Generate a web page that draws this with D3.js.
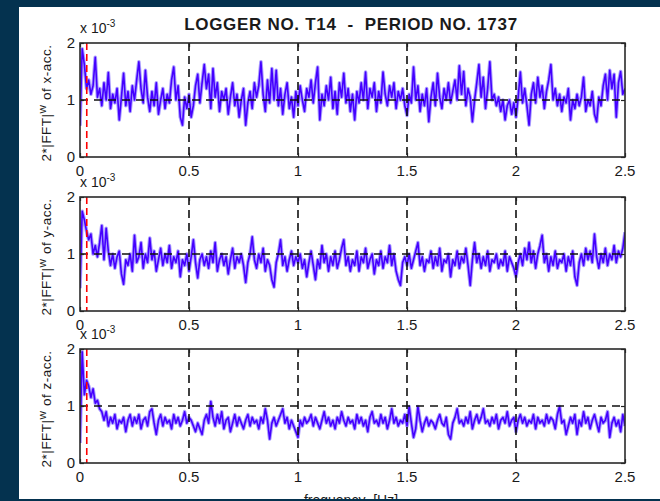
<!DOCTYPE html>
<html>
<head>
<meta charset="utf-8">
<script src="https://cdn.jsdelivr.net/npm/d3@7"></script>
<style>
  body { margin: 0; background: #04324f; }
  text { font-family: "Liberation Sans", Arial, sans-serif; fill: #1a1a1a; white-space: pre; }
</style>
</head>
<body>
<script>
// spectrum values (units of 1e-3), one value every 0.01 Hz from 0 to 2.5 Hz
var freqStep = 0.01;

var xAcc = [
  0.55, 1.9, 1.62, 1.2, 1.35, 1.1, 1.25, 1.75, 1.05, 1.2, 0.9, 1.3, 1.0, 1.48, 0.85, 1.1, 0.95, 1.2, 0.65, 1.05, 1.47, 0.9, 1.15, 0.8, 1.25,
  1.0, 1.35, 1.67, 1.2, 0.95, 1.52, 1.05, 0.8, 1.15, 0.9, 1.3, 0.75, 1.0, 1.2, 0.85, 1.1, 0.95, 1.35, 1.58, 1.0, 1.25, 0.7, 0.56, 1.05, 0.85,
  1.1, 0.7, 0.9, 1.25, 1.45, 0.95, 1.3, 1.62, 1.2, 1.45, 0.85, 1.55, 1.05, 1.3, 0.8, 1.15, 1.0, 1.2, 0.75, 1.05, 1.3, 0.9, 1.1, 0.7, 1.0,
  1.2, 0.56, 0.95, 1.15, 0.85, 1.3, 1.05, 1.25, 1.67, 1.1, 0.8, 1.35, 0.95, 1.55, 1.0, 1.52, 0.9, 1.2, 0.75, 1.1, 1.3, 0.85, 1.05, 0.7, 1.15,
  0.9, 1.25, 1.0, 0.8, 1.2, 1.05, 1.35, 0.95, 1.3, 1.58, 0.65, 1.1, 0.9, 1.25, 1.0, 1.4, 0.85, 1.15, 0.75, 1.3, 1.05, 1.47, 0.95, 1.2, 0.8,
  1.1, 0.65, 1.15, 0.95, 1.3, 1.0, 1.49, 0.85, 1.2, 1.05, 1.3, 0.8, 1.15, 0.95, 1.49, 1.1, 0.9, 1.25, 1.05, 1.3, 0.85, 1.15, 1.0, 1.2, 0.9,
  0.73, 1.1, 0.95, 1.58, 1.0, 1.25, 0.8, 1.1, 0.9, 1.2, 0.62, 1.05, 1.3, 0.9, 1.47, 1.05, 0.85, 1.2, 1.0, 1.3, 0.95, 1.15, 1.35, 1.0, 1.6,
  1.1, 1.5, 0.9, 1.2, 1.05, 0.62, 1.0, 1.3, 1.62, 1.05, 1.4, 0.85, 1.2, 1.67, 1.0, 1.1, 0.9, 1.05, 0.8, 1.0, 0.65, 0.9, 1.0, 0.75, 0.95,
  0.7, 1.05, 1.49, 0.95, 1.2, 0.9, 0.56, 1.1, 1.3, 0.95, 1.4, 1.05, 1.25, 0.85, 1.15, 1.35, 1.62, 1.0, 1.2, 0.9, 1.1, 0.8, 1.05, 0.95, 1.2,
  0.65, 1.0, 0.85, 1.1, 0.9, 1.05, 1.4, 0.8, 1.0, 0.9, 1.15, 0.75, 0.62, 1.05, 0.9, 1.25, 1.45, 1.0, 1.52, 1.2, 1.45, 0.7, 1.3, 1.5, 1.1,
  1.2
];

var yAcc = [
  0.4, 1.75, 1.6, 1.4, 1.25, 1.35, 1.0, 1.15, 0.95, 1.2, 1.5, 0.9, 1.45, 1.05, 0.8, 1.0, 0.75, 0.95, 1.05, 0.65, 0.47, 0.9, 0.8, 1.0, 0.7,
  1.33, 0.85, 0.95, 1.2, 0.75, 1.0, 0.85, 1.28, 0.9, 1.05, 0.7, 0.9, 1.1, 0.8, 1.0, 0.85, 1.15, 0.75, 0.95, 0.85, 1.05, 0.6, 0.9, 0.8, 1.0,
  0.7, 0.95, 1.25, 0.85, 0.58, 0.9, 1.0, 0.8, 0.95, 0.75, 1.05, 0.85, 1.2, 0.7, 0.9, 1.0, 0.8, 0.95, 0.65, 0.9, 1.1, 0.75, 0.95, 0.85, 1.0,
  0.8, 0.5, 0.85, 1.0, 1.3, 0.9, 0.75, 1.0, 0.85, 1.1, 0.7, 0.9, 0.8, 0.55, 0.42, 0.85, 1.0, 1.25, 0.8, 0.95, 0.7, 0.9, 1.05, 0.8, 0.95,
  0.85, 1.0, 0.75, 0.9, 0.6, 0.85, 1.05, 0.8, 0.55, 0.9, 0.75, 1.15, 0.85, 1.0, 0.7, 0.95, 0.8, 1.05, 0.75, 0.9, 1.1, 1.25, 0.8, 0.95, 0.7,
  0.9, 0.8, 1.05, 0.7, 0.95, 0.85, 1.1, 0.75, 0.9, 1.0, 0.65, 0.9, 0.8, 1.05, 0.75, 0.95, 0.85, 1.15, 0.8, 1.0, 0.7, 0.55, 0.45, 0.85, 0.95,
  0.8, 1.0, 0.75, 0.9, 1.05, 1.2, 0.8, 0.95, 0.7, 0.9, 0.85, 1.05, 0.75, 0.95, 0.8, 1.1, 0.7, 0.9, 0.85, 1.0, 0.6, 0.9, 0.8, 1.05, 0.75,
  0.95, 0.85, 1.1, 0.8, 0.45, 0.9, 1.2, 0.85, 1.0, 0.75, 0.95, 0.8, 1.05, 0.7, 0.9, 0.85, 1.0, 0.75, 0.9, 0.8, 1.05, 0.7, 0.95, 0.85, 0.75,
  0.6, 0.85, 1.0, 0.8, 1.1, 0.9, 1.2, 0.85, 1.05, 0.75, 1.0, 1.15, 1.33, 0.85, 1.0, 0.7, 0.95, 0.8, 1.05, 0.75, 0.9, 0.85, 1.0, 0.7, 0.95,
  0.8, 1.05, 0.6, 0.45, 0.85, 1.0, 0.8, 1.1, 0.9, 1.05, 0.85, 1.35, 0.95, 0.75, 1.0, 0.85, 1.1, 0.8, 1.0, 0.9, 1.15, 0.85, 1.05, 0.95, 1.1,
  1.38
];

var zAcc = [
  0.35, 1.95, 1.2, 1.45, 1.35, 1.15, 1.3, 1.05, 1.1, 0.95, 0.9, 0.75, 0.9, 0.65, 0.8, 0.7, 0.85, 0.6, 0.75, 0.7, 0.8, 0.55, 0.75, 0.85, 0.65,
  0.8, 0.7, 0.85, 0.6, 0.75, 0.8, 0.65, 0.9, 0.95, 0.7, 0.5, 0.75, 0.85, 0.65, 0.8, 0.7, 0.75, 0.6, 0.85, 0.7, 0.8, 0.65, 0.75, 0.9, 0.7,
  0.8, 0.75, 0.65, 0.55, 0.7, 0.6, 0.5, 0.75, 0.85, 0.7, 1.08, 0.8, 0.65, 0.85, 0.7, 0.9, 0.6, 0.75, 0.8, 0.55, 0.7, 0.85, 0.65, 0.8, 0.7,
  0.6, 0.75, 0.85, 0.65, 0.8, 0.7, 0.75, 0.6, 0.8, 0.7, 0.95, 0.75, 0.42, 0.7, 0.8, 0.65, 0.75, 0.85, 0.95, 0.7, 0.8, 0.6, 0.75, 0.65, 0.55,
  0.45, 0.75, 0.65, 0.8, 0.7, 0.75, 0.85, 0.65, 0.8, 0.7, 0.6, 0.75, 0.9, 0.7, 0.8, 0.65, 0.75, 0.6, 0.8, 0.7, 0.9, 0.75, 0.65, 0.8, 0.7,
  0.75, 0.6, 0.85, 0.7, 0.8, 0.65, 0.75, 0.55, 0.8, 0.9, 0.7, 0.75, 0.65, 0.85, 0.7, 0.8, 0.6, 0.75, 0.95, 0.7, 0.8, 0.65, 0.75, 0.7, 0.85,
  0.65, 0.99, 0.7, 0.45, 0.6, 0.99, 0.75, 0.55, 0.7, 0.8, 0.65, 0.75, 0.7, 0.6, 0.75, 0.85, 0.7, 0.65, 0.8, 0.5, 0.42, 0.7, 0.8, 0.95, 0.7,
  0.75, 0.65, 0.8, 0.7, 0.9, 0.6, 0.75, 0.85, 0.7, 0.8, 0.95, 0.7, 0.75, 0.65, 0.8, 0.7, 0.85, 0.6, 0.75, 0.8, 0.7, 0.9, 0.65, 0.75, 0.8,
  0.55, 0.75, 0.85, 0.7, 0.8, 0.65, 0.75, 0.7, 0.85, 0.6, 0.8, 0.7, 0.75, 0.65, 0.85, 0.7, 0.8, 0.75, 0.6, 0.85, 0.99, 0.7, 0.75, 0.5, 0.65,
  0.8, 0.7, 0.85, 0.5, 0.75, 0.65, 0.9, 0.7, 0.8, 0.6, 0.75, 0.85, 0.7, 0.55, 0.8, 0.7, 0.75, 0.9, 0.45, 0.7, 0.8, 0.65, 0.75, 0.55, 0.85,
  0.65
];

var series = [xAcc, yAcc, zAcc];
var axisNames = ["x-acc.", "y-acc.", "z-acc."];
var xTicks = [0, 0.5, 1, 1.5, 2, 2.5];
var xTickLabels = ["0", "0.5", "1", "1.5", "2", "2.5"];
var yTicks = [0, 1, 2];
var xGrid = [0.5, 1, 1.5, 2];
var yGrid = [1];
var cutoffFreq = 0.031;
var titleText = "LOGGER NO. T14  -  PERIOD NO. 1737";
var xLabelText = "frequency  [Hz]";

// layout properties
var p = {
    width: 660,
    height: 501,
    left: 80,
    right: 625,
    panelTops: [43, 197, 349],
    panelHeight: 114,
    lineColor: "#4400ff",
    haloColor: "#ab9dff"
};

var svg = d3.select("body").append("svg")
    .attr("width", p.width).attr("height", p.height);

// white page on navy background
svg.append("rect").attr("x", 19).attr("y", 7)
    .attr("width", p.width - 19).attr("height", 492).attr("fill", "#ffffff");

// title
svg.append("text").attr("x", 351).attr("y", 30)
    .attr("text-anchor", "middle")
    .style("font-size", "17px").style("font-weight", "bold")
    .style("letter-spacing", "0.7px")
    .text(titleText);

var x = d3.scaleLinear().domain([0, 2.5]).range([p.left, p.right]);

series.forEach(function(values, k) {
    var top = p.panelTops[k];
    var bottom = top + p.panelHeight;
    var y = d3.scaleLinear().domain([0, 2]).range([bottom, top]);
    var g = svg.append("g");

    // clip the spectrum to the axes box
    var clipId = "clip" + k;
    svg.append("clipPath").attr("id", clipId).append("rect")
        .attr("x", p.left).attr("y", top)
        .attr("width", p.right - p.left).attr("height", p.panelHeight);

    var line = d3.line()
        .x(function(d, i) { return x(i * freqStep); })
        .y(function(d) { return y(d); });

    var plot = g.append("g").attr("clip-path", "url(#" + clipId + ")");

    // soft halo then the main trace
    plot.append("path").datum(values)
        .attr("d", line).attr("fill", "none")
        .attr("stroke", p.haloColor).attr("stroke-width", 3.6)
        .attr("stroke-linejoin", "round");
    plot.append("path").datum(values)
        .attr("d", line).attr("fill", "none")
        .attr("stroke", p.lineColor).attr("stroke-width", 1.6)
        .attr("stroke-linejoin", "round");

    // dashed grid lines
    g.selectAll(".vgrid").data(xGrid).enter().append("line")
        .attr("x1", function(d) { return x(d); }).attr("x2", function(d) { return x(d); })
        .attr("y1", top).attr("y2", bottom)
        .attr("stroke", "#111").attr("stroke-width", 1.6)
        .attr("stroke-dasharray", "8,5");
    g.selectAll(".hgrid").data(yGrid).enter().append("line")
        .attr("x1", p.left).attr("x2", p.right)
        .attr("y1", function(d) { return y(d); }).attr("y2", function(d) { return y(d); })
        .attr("stroke", "#111").attr("stroke-width", 1.4)
        .attr("stroke-dasharray", "8,6");

    // red dashed marker
    g.append("line")
        .attr("x1", x(cutoffFreq)).attr("x2", x(cutoffFreq))
        .attr("y1", top).attr("y2", bottom)
        .attr("stroke", "#ff0000").attr("stroke-width", 1.6)
        .attr("stroke-dasharray", "7,4");

    // inner ticks on all four sides
    var bottomAxis = d3.axisBottom(x).tickValues(xTicks).tickSize(-4).tickFormat("");
    var topAxis = d3.axisTop(x).tickValues(xTicks).tickSize(-4).tickFormat("");
    var leftAxis = d3.axisLeft(y).tickValues(yTicks).tickSize(-4).tickFormat("");
    var rightAxis = d3.axisRight(y).tickValues(yTicks).tickSize(-4).tickFormat("");
    [[bottomAxis, "translate(0," + bottom + ")"], [topAxis, "translate(0," + top + ")"],
     [leftAxis, "translate(" + p.left + ",0)"], [rightAxis, "translate(" + p.right + ",0)"]]
        .forEach(function(a) {
            var ax = g.append("g").attr("transform", a[1]).call(a[0]);
            ax.select(".domain").remove();
            ax.selectAll("line").attr("stroke", "#222").attr("stroke-width", 1.2);
        });

    // axes box
    g.append("rect").attr("x", p.left).attr("y", top)
        .attr("width", p.right - p.left).attr("height", p.panelHeight)
        .attr("fill", "none").attr("stroke", "#2a2a2a").attr("stroke-width", 1.6);

    // tick labels
    g.selectAll(".xl").data(xTicks).enter().append("text")
        .attr("x", function(d) { return x(d); }).attr("y", bottom + 19)
        .attr("text-anchor", "middle").style("font-size", "15px")
        .text(function(d, i) { return xTickLabels[i]; });
    g.selectAll(".yl").data(yTicks).enter().append("text")
        .attr("x", p.left - 5).attr("y", function(d) { return y(d) + 5; })
        .attr("text-anchor", "end").style("font-size", "15px")
        .text(function(d) { return d; });

    // exponent note
    var ex = g.append("text").attr("x", p.left).attr("y", top - 10)
        .style("font-size", "14px");
    ex.append("tspan").text("x 10");
    ex.append("tspan").attr("dy", -6).style("font-size", "10px").text("-3");

    // rotated y label
    var yl = g.append("text")
        .attr("transform", "translate(51," + (top + 60) + ") rotate(-90)")
        .attr("text-anchor", "middle").style("font-size", "13.5px")
        .style("letter-spacing", "0.5px");
    yl.append("tspan").text("2*|FFT|");
    yl.append("tspan").attr("dy", -5).style("font-size", "9px").text("W");
    yl.append("tspan").attr("dy", 5).text(" of " + axisNames[k]);
});

// x label, cut by the page edge as in the source
svg.append("text").attr("x", 351).attr("y", 505)
    .attr("text-anchor", "middle").style("font-size", "14px")
    .text(xLabelText);

// navy strip along the bottom edge
svg.append("rect").attr("x", 0).attr("y", 499)
    .attr("width", p.width).attr("height", 2).attr("fill", "#04324f");
</script>
</body>
</html>
